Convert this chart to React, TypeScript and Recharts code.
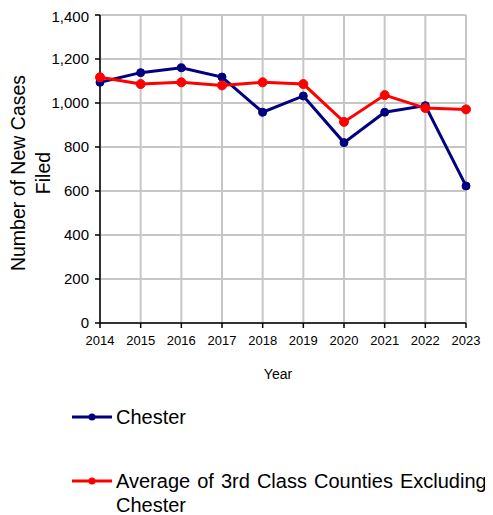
import React from 'react';
import { LineChart, Line, XAxis, YAxis, CartesianGrid, Label } from 'recharts';

const years = ['2014', '2015', '2016', '2017', '2018', '2019', '2020', '2021', '2022', '2023'];
const chester = [1094, 1138, 1160, 1118, 958, 1032, 820, 958, 988, 623];
const average = [1117, 1086, 1094, 1080, 1094, 1086, 914, 1036, 977, 971];
const yTicks = [0, 200, 400, 600, 800, 1000, 1200, 1400];
const seriesNames = ['Chester', 'Average of 3rd Class Counties Excluding Chester'];
const seriesColors = ['#000080', '#ff0000'];

const data = years.map((y, i) => ({ year: y, chester: chester[i], average: average[i] }));

const FONT = 'Arial, "Liberation Sans", sans-serif';

const YTitle = (props: any) => {
  const vb = props.viewBox || {};
  const cy = vb.y + vb.height / 2 + 4;
  const x1 = 10;
  const x2 = 35;
  return (
    <g>
      <text
        x={x1}
        y={cy}
        transform={`rotate(-90, ${x1}, ${cy})`}
        textAnchor="middle"
        dominantBaseline="central"
        fontFamily={FONT}
        fontSize={19.5}
        fill="#000"
      >
        Number of New Cases
      </text>
      <text
        x={x2}
        y={cy}
        transform={`rotate(-90, ${x2}, ${cy})`}
        textAnchor="middle"
        dominantBaseline="central"
        fontFamily={FONT}
        fontSize={19.5}
        fill="#000"
      >
        Filed
      </text>
    </g>
  );
};

export default function App() {
  return (
    <div style={{ position: 'relative', width: 485, height: 507, fontFamily: FONT }}>
      <LineChart width={485} height={390} data={data} margin={{ top: 7, right: 27, left: 0, bottom: 15 }}>
        <CartesianGrid stroke="#c6c6c6" strokeWidth={2} />
        <XAxis
          dataKey="year"
          height={60}
          tickSize={5}
          tickMargin={8}
          tick={{ fontSize: 13, fill: '#000', fontFamily: FONT }}
          axisLine={{ stroke: '#000', strokeWidth: 1.5 }}
          tickLine={{ stroke: '#000', strokeWidth: 1.5 }}
          interval={0}
        >
          <Label value="Year" position="insideBottom" offset={4} dx={-5} style={{ fontSize: 14, fill: '#000', fontFamily: FONT }} />
        </XAxis>
        <YAxis
          width={92}
          domain={[0, 1400]}
          ticks={yTicks}
          tickSize={5}
          tickMargin={6}
          tickFormatter={(v: number) => v.toLocaleString('en-US')}
          tick={{ fontSize: 15, fill: '#000', fontFamily: FONT }}
          axisLine={{ stroke: '#000', strokeWidth: 1.5 }}
          tickLine={{ stroke: '#000', strokeWidth: 1.5 }}
        >
          <Label content={<YTitle />} />
        </YAxis>
        <Line
          dataKey="chester"
          name={seriesNames[0]}
          stroke={seriesColors[0]}
          strokeWidth={3}
          dot={{ r: 4, fill: seriesColors[0], stroke: seriesColors[0], strokeWidth: 1 }}
          isAnimationActive={false}
        />
        <Line
          dataKey="average"
          name={seriesNames[1]}
          stroke={seriesColors[1]}
          strokeWidth={3}
          dot={{ r: 4.5, fill: seriesColors[1], stroke: seriesColors[1], strokeWidth: 1 }}
          isAnimationActive={false}
        />
      </LineChart>
      {seriesNames.map((name, i) => (
        <div
          key={name}
          style={{
            position: 'absolute',
            left: 64,
            top: i === 0 ? 397 : 461,
            display: 'flex',
            alignItems: 'flex-start',
          }}
        >
          <svg width={44} height={24} style={{ flex: 'none' }}>
            <line x1={0} y1={12} x2={40} y2={12} stroke={seriesColors[i]} strokeWidth={3} />
            <circle cx={20} cy={12} r={3.5} fill={seriesColors[i]} />
          </svg>
          <div style={{ fontSize: 20, lineHeight: '24px', color: '#000', width: 376, wordSpacing: 1.5 }}>{name}</div>
        </div>
      ))}
    </div>
  );
}
